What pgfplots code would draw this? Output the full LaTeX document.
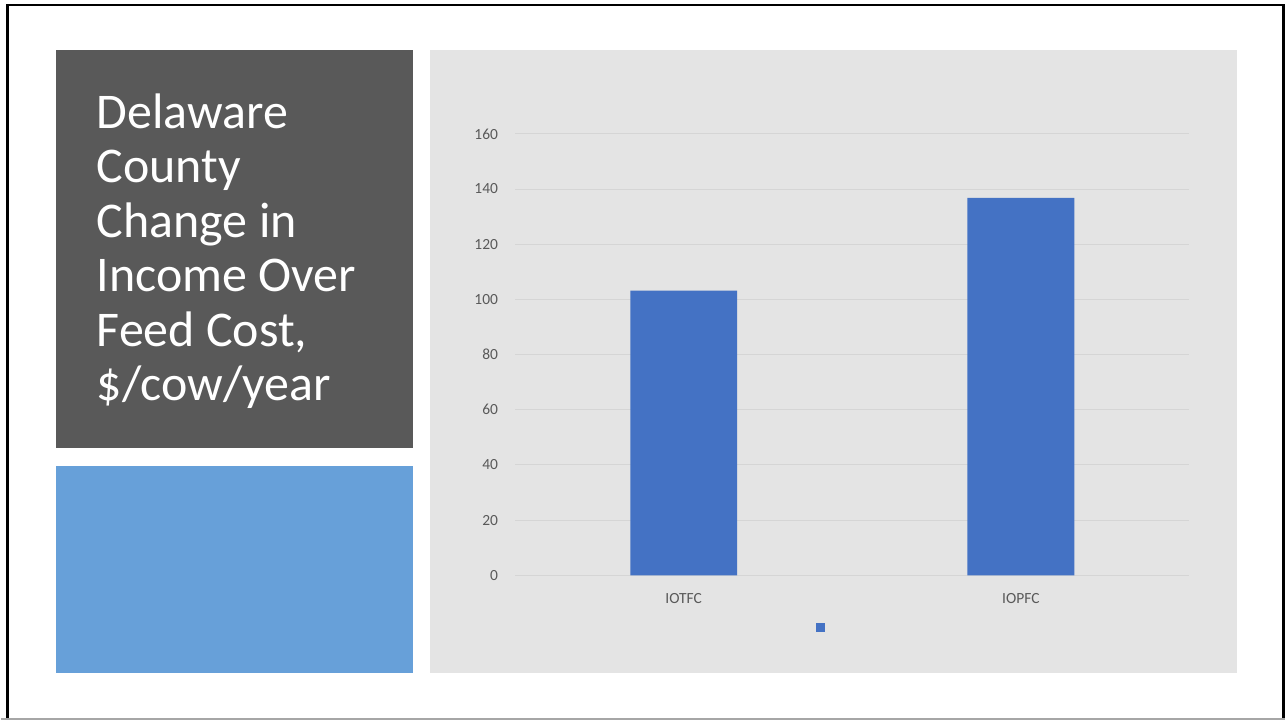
\documentclass[border=0pt]{standalone}
\usepackage{fontspec}
\setmainfont{Carlito}
\usepackage{pgfplots}
\pgfplotsset{compat=1.18}
\definecolor{barblue}{HTML}{4472C4}
\definecolor{darkbox}{HTML}{595959}
\definecolor{lightblue}{HTML}{67A0D9}
\definecolor{chartbg}{HTML}{E4E4E4}
\definecolor{gridc}{HTML}{D5D5D5}
\definecolor{tickc}{HTML}{595959}
\begin{document}
\begin{tikzpicture}[x=1pt,y=1pt]
% slide
\fill[white] (0,0) rectangle (1286,721);
\draw[black, line width=2.5pt] (7,2) -- (7,716);
\draw[black, line width=2.5pt] (5.75,716) -- (1285,716);
\draw[black, line width=2.5pt] (1284,2) -- (1284,717);
\draw[gray!70, line width=1.5pt] (0,1) -- (1286,1);
% panels
\fill[darkbox] (55,272) rectangle (413,671);
\fill[lightblue] (55,47) rectangle (413,254);
\fill[chartbg] (430,47) rectangle (1238,671);
% title
\begin{scope}[every node/.style={anchor=base west, text=white, inner sep=0pt, font=\fontsize{50}{54}\selectfont}]
\node at (96,592.3) {Delaware};
\node at (96,537.8) {County};
\node at (96,483.3) {Change in};
\node at (96,428.8) {Income Over};
\node at (96,374.3) {Feed Cost,};
\node at (96,319.8) {\$/cow/year};
\end{scope}
\begin{axis}[
  at={(515pt,145pt)}, anchor=south west,
  scale only axis, width=675pt, height=442pt,
  xmin=-0.5, xmax=1.5, ymin=0, ymax=160,
  ytick={0,20,...,160},
  xtick={0,1}, xticklabels={IOTFC,IOPFC},
  axis line style={draw=none},
  major tick length=0pt,
  ymajorgrids, grid style={gridc, line width=1pt},
  /pgf/number format/assume math mode=true,
  ticklabel style={font=\fontsize{15.5}{18}\selectfont, text=tickc},
  yticklabel style={anchor=east, inner sep=0pt, xshift=-17pt},
  xticklabel style={anchor=north, inner sep=0pt, yshift=-18pt},
  ybar, bar width=0.317,
  legend style={at={(0.4541,-0.1188)}, anchor=center, draw=none, fill=none,
    inner sep=0pt, outer sep=0pt, nodes={inner sep=0pt}},
  legend image code/.code={\fill[barblue] (0pt,-4.5pt) rectangle (9pt,4.5pt);},
]
\addplot[fill=barblue, draw=none] coordinates {(0,103.2) (1,136.8)};
\addlegendentry{}
\end{axis}
\end{tikzpicture}
\end{document}
